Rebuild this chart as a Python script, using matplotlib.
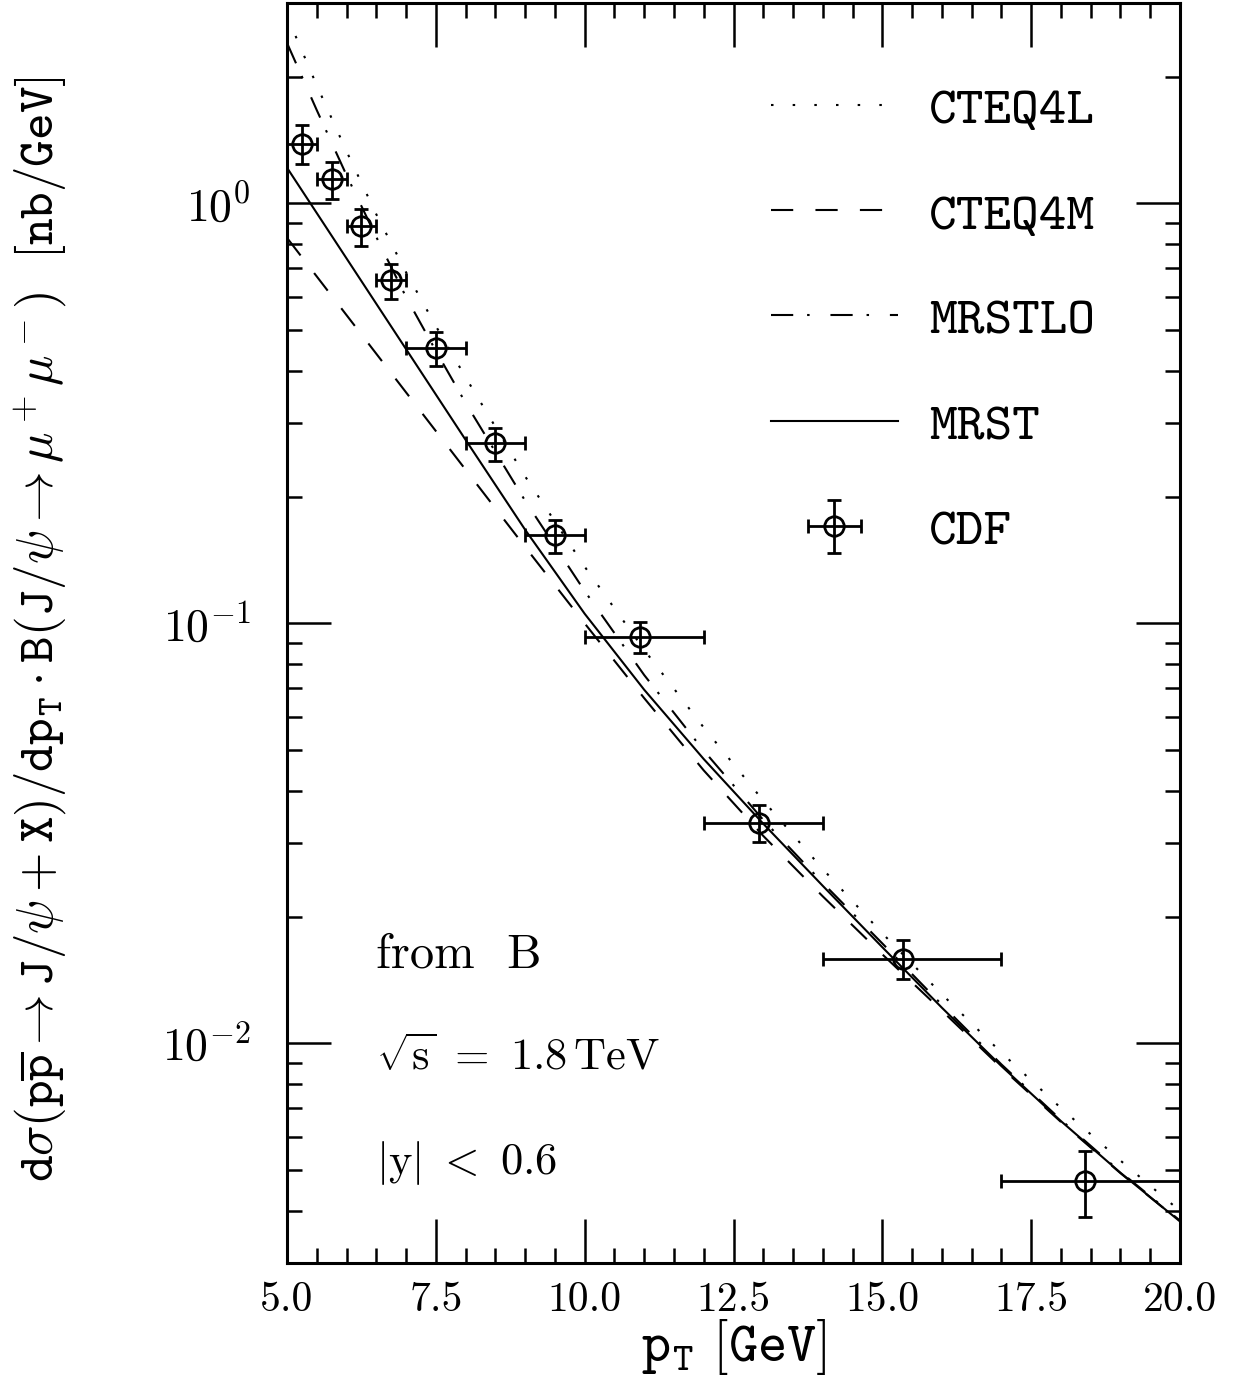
import numpy as np
import matplotlib
matplotlib.use("Agg")
import matplotlib.pyplot as plt

plt.rcParams['mathtext.fontset'] = 'cm'
plt.rcParams['lines.scale_dashes'] = False

# theory curves, log10 of d sigma/dpT * B  [nb/GeV]
pt_grid = [5.0, 5.5, 6.0, 6.5, 7.0, 7.5, 8.0, 9.0, 10.0, 11.0, 12.0, 13.0,
           14.0, 15.0, 16.0, 17.0, 18.0, 19.0, 20.0]
cteq4l = [0.446, 0.281, 0.124, -0.026, -0.164, -0.292, -0.414, -0.650, -0.865,
          -1.063, -1.248, -1.422, -1.585, -1.738, -1.883, -2.022, -2.154, -2.279, -2.399]
cteq4m = [-0.082, -0.174, -0.266, -0.358, -0.450, -0.542, -0.634, -0.818, -1.000,
          -1.178, -1.350, -1.506, -1.650, -1.788, -1.922, -2.058, -2.187, -2.309, -2.424]
mrstlo = [0.382, 0.222, 0.067, -0.080, -0.223, -0.351, -0.475, -0.708, -0.923,
          -1.123, -1.303, -1.468, -1.618, -1.762, -1.908, -2.050, -2.182, -2.306, -2.422]
mrst = [0.085, -0.023, -0.131, -0.239, -0.347, -0.455, -0.563, -0.777, -0.977,
        -1.158, -1.323, -1.477, -1.625, -1.771, -1.915, -2.054, -2.185, -2.308, -2.424]

# CDF data
cdf_pt = [5.25, 5.75, 6.25, 6.75, 7.5, 8.5, 9.5, 10.93, 12.92, 15.35, 18.4]
cdf_lo = [5.0, 5.5, 6.0, 6.5, 7.0, 8.0, 9.0, 10.0, 12.0, 14.0, 17.0]
cdf_hi = [5.5, 6.0, 6.5, 7.0, 8.0, 9.0, 10.0, 12.0, 14.0, 17.0, 20.0]
cdf_y = [1.384, 1.141, 0.883, 0.658, 0.452, 0.2695, 0.1625, 0.0930, 0.0335, 0.0159, 0.00470]
cdf_up = [1.539, 1.256, 0.968, 0.718, 0.493, 0.2926, 0.1767, 0.1008, 0.0370, 0.01766, 0.00554]
cdf_dn = [1.239, 1.022, 0.791, 0.592, 0.410, 0.2437, 0.147, 0.0848, 0.0301, 0.01425, 0.00385]

xticks = [5.0, 7.5, 10.0, 12.5, 15.0, 17.5, 20.0]
xticklabels = ['5.0', '7.5', '10.0', '12.5', '15.0', '17.5', '20.0']
yticks = [1e-2, 1e-1, 1e0]
yticklabels = [r'$10^{-2}$', r'$10^{-1}$', r'$10^{0}$']

fig = plt.figure(figsize=(12.34, 13.93), dpi=100)
ax = fig.add_axes([287/1234, 1 - 1263/1393, 893/1234, 1260/1393])

pt = np.array(pt_grid)
lw = 1.5
ax.plot(pt, 10**np.array(cteq4l), color='k', lw=lw, dashes=(1.8, 13.8), label='CTEQ4L')
ax.plot(pt, 10**np.array(cteq4m), color='k', lw=lw, dashes=(16, 16), label='CTEQ4M')
ax.plot(pt, 10**np.array(mrstlo), color='k', lw=lw, dashes=(16, 10, 1.8, 15), label='MRSTLO')
ax.plot(pt, 10**np.array(mrst), color='k', lw=lw, label='MRST')

x = np.array(cdf_pt)
y = np.array(cdf_y)
xerr = [x - np.array(cdf_lo), np.array(cdf_hi) - x]
yerr = [y - np.array(cdf_dn), np.array(cdf_up) - y]
ax.errorbar(x, y, xerr=xerr, yerr=yerr, fmt='o', ms=14, mfc='none', mec='k', mew=2,
            ecolor='k', elinewidth=2, capsize=4.7, capthick=2, label='CDF')

ax.set_yscale('log')
ax.set_xlim(5.0, 20.0)
ax.set_ylim(0.003, 3.0)

ax.set_xticks(xticks)
ax.set_xticklabels(xticklabels, fontfamily='cmr10', fontsize=30)
ax.set_xticks(np.arange(5.0, 20.01, 0.5), minor=True)
ax.set_yticks(yticks)
ax.set_yticklabels(yticklabels, fontsize=33)
ax.yaxis.set_minor_formatter(matplotlib.ticker.NullFormatter())

ax.tick_params(which='both', direction='in', top=True, right=True, width=1.8, colors='k')
ax.tick_params(which='major', length=32)
ax.tick_params(which='minor', length=11)
ax.tick_params(axis='x', which='major', pad=13)
ax.tick_params(axis='y', which='major', pad=26)
for s in ax.spines.values():
    s.set_linewidth(2.2)

ax.set_xlabel(r'$\mathtt{p}_\mathtt{T}\ \mathtt{[GeV]}$', fontsize=40)
ax.xaxis.set_label_coords(0.5, -0.043)
ax.set_ylabel(r'$\mathtt{d}\sigma(\mathtt{p}\overline{\mathtt{p}}\rightarrow\mathtt{J}/\psi+\mathtt{X})'
              r'/\mathtt{dp}_\mathtt{T}\cdot\mathtt{B}(\mathtt{J}/\psi\rightarrow\mu^+\mu^-)\ \ '
              r'\mathtt{[nb/GeV]}$', fontsize=36.5)
ax.yaxis.set_label_coords(-0.244, 0.503)

ax.text(0.0997, 0.2444, 'from  B', transform=ax.transAxes, fontfamily='cmr10',
        fontsize=35, va='center', ha='left')
ax.text(0.0997, 0.1627, r'$\sqrt{\mathrm{s}}\ =\ 1.8\,\mathrm{TeV}$', transform=ax.transAxes,
        fontsize=32, va='center', ha='left')
ax.text(0.0997, 0.0794, r'$|\mathrm{y}|\ <\ 0.6$', transform=ax.transAxes,
        fontsize=32, va='center', ha='left')

ax.legend(loc='upper left', bbox_to_anchor=(0.542, 0.934), frameon=False,
          prop={'family': 'cmtt10', 'size': 38}, handlelength=2.4, handletextpad=0.6,
          labelspacing=1.07, borderpad=0, borderaxespad=0)

fig.savefig('out.png', dpi=100)
